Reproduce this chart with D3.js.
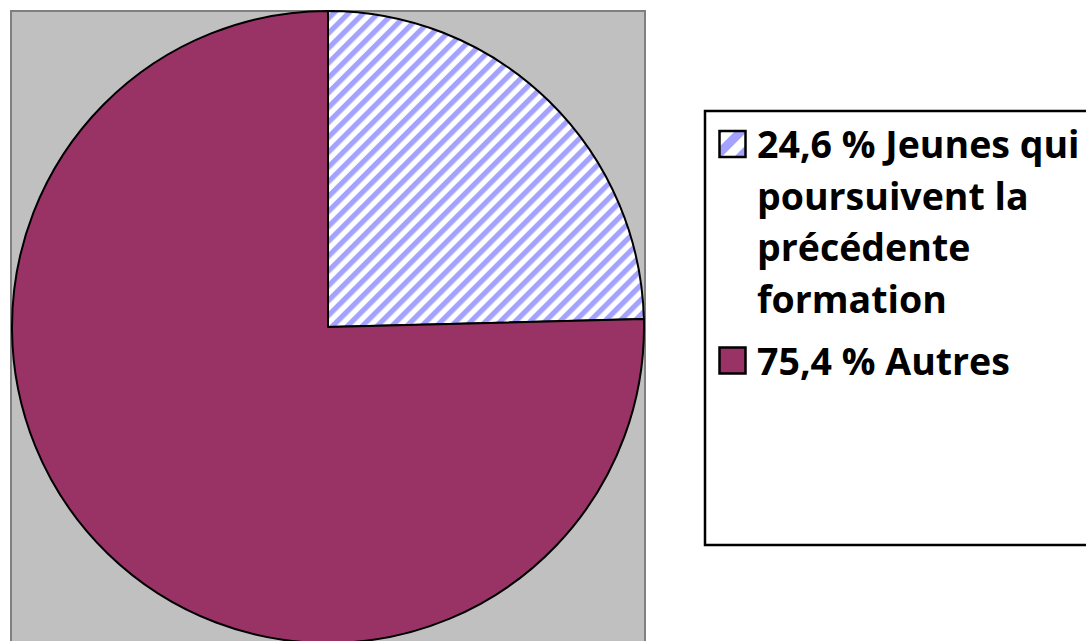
<!DOCTYPE html>
<html>
<head>
<meta charset="utf-8">
<script src="https://cdn.jsdelivr.net/npm/d3@7"></script>
<style>
  html, body { margin: 0; padding: 0; background: #fff; }
  svg { display: block; }
</style>
</head>
<body>
<div class="chart"></div>
<script>
// data
const labels = ["24,6 % Jeunes qui poursuivent la précédente formation", "75,4 % Autres"]
const legendLines = [["24,6 % Jeunes qui", "poursuivent la", "précédente", "formation"], ["75,4 % Autres"]]
const values = [24.6, 75.4]
const fills = ["url(#hatch)", "#993366"]
const legendFills = ["url(#hatchSmall)", "#993366"]

let width = 1086, height = 641

let svg = d3.select("div.chart").append("svg")
    .attr("width", width)
    .attr("height", height)

// diagonal stripes for the first slice
let defs = svg.append("defs")
const addHatch = (id, step) => {
  let p = defs.append("pattern")
      .attr("id", id)
      .attr("patternUnits", "userSpaceOnUse")
      .attr("width", step)
      .attr("height", step)
      .attr("patternTransform", "rotate(45)")
  p.append("rect").attr("width", step).attr("height", step).attr("fill", "#ffffff")
  p.append("rect").attr("width", step * 0.5).attr("height", step).attr("fill", "#a3a3ff")
}
addHatch("hatch", 10.5)
addHatch("hatchSmall", 17.5)

// plot area
svg.append("rect")
    .attr("x", 11).attr("y", 11)
    .attr("width", 634).attr("height", 660)
    .attr("fill", "#c0c0c0")
    .attr("stroke", "#808080")
    .attr("stroke-width", 2)

let cx = 328, cy = 327, radius = 316

let pie = d3.pie().sort(null).value(d => d)
let arc = d3.arc().innerRadius(0).outerRadius(radius)

svg.append("g")
    .attr("transform", `translate(${cx},${cy})`)
  .selectAll("path")
  .data(pie(values))
  .enter()
  .append("path")
    .attr("d", arc)
    .attr("fill", (d, i) => fills[i])
    .attr("stroke", "#000")
    .attr("stroke-width", 2)
    .attr("stroke-linejoin", "round")

// legend
let legend = svg.append("g")
legend.append("rect")
    .attr("x", 705).attr("y", 111)
    .attr("width", 400).attr("height", 434)
    .attr("fill", "#fff")
    .attr("stroke", "#000")
    .attr("stroke-width", 2.5)

let lineH = 51.5
let y = 158
legendLines.forEach((lines, i) => {
  legend.append("rect")
      .attr("x", 719.5).attr("y", y - 27)
      .attr("width", 26).attr("height", 26)
      .attr("fill", legendFills[i])
      .attr("stroke", "#000")
      .attr("stroke-width", 2.5)
  let t = legend.append("text")
      .attr("x", 757)
      .attr("y", y)
      .attr("font-family", "'Open Sans', Lato, sans-serif")
      .attr("font-weight", "bold")
      .attr("font-size", 37.5)
      .attr("fill", "#000")
  t.append("title").text(labels[i])
  lines.forEach((line, j) => {
    t.append("tspan").attr("x", 757).attr("y", y + j * lineH).text(line)
  })
  y += (lines.length - 1) * lineH + 62
})
</script>
</body>
</html>
